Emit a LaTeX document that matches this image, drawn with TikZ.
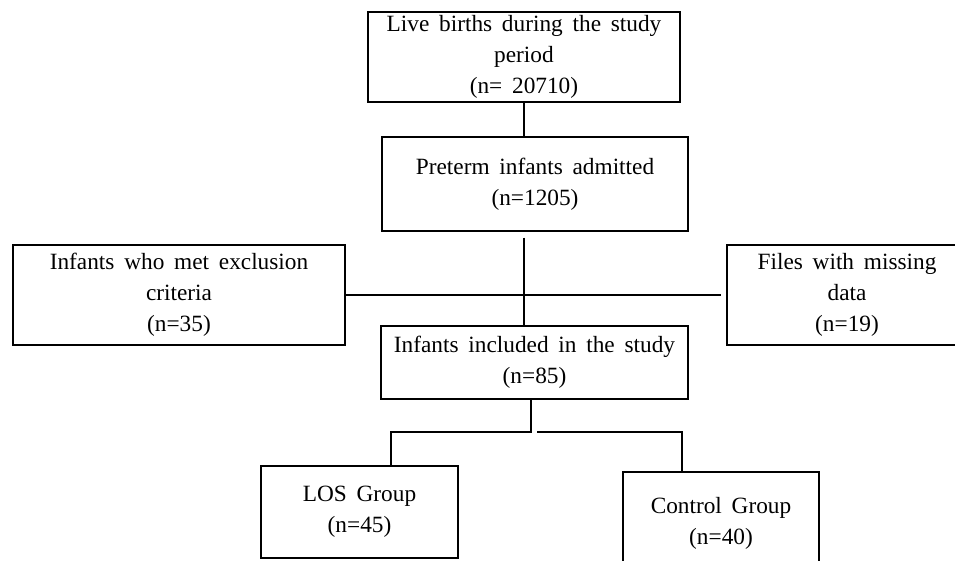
\documentclass[tikz,border=0pt]{standalone}
\usepackage{fontspec}
\setmainfont{Liberation Serif}
\usetikzlibrary{positioning,calc}
\newcommand{\boxfont}{\fontsize{23.3}{31}\selectfont\spaceskip=0.42em\relax}

\begin{document}
\begin{tikzpicture}[x=1pt, y=-1pt,
  box/.style={draw, line width=1.2pt, inner sep=0pt, align=center, font=\boxfont},
  link/.style={line width=1.2pt},
]
\fill[white] (0,0) rectangle (955,560);
\useasboundingbox (0,0) rectangle (955,560);

% main column
\node[box, minimum width=312pt, minimum height=90pt] (live) at (524,57)
  {Live births during the study\\period\\(n= 20710)};
\node[box, minimum width=306pt, minimum height=94pt] (preterm) at (535,184)
  {Preterm infants admitted\\(n=1205)};
\node[box, minimum width=307pt, minimum height=73pt] (included) at (534.5,362.5)
  {Infants included in the study\\(n=85)};

% excluded
\node[box, minimum width=332pt, minimum height=100pt] (excl) at (179,295)
  {Infants who met exclusion\\criteria\\(n=35)};
\node[box, minimum width=240pt, minimum height=100pt] (missing) at (847,295)
  {Files with missing\\data\\(n=19)};

% groups
\node[box, minimum width=197pt, minimum height=92pt] (los) at (359.5,512)
  {LOS Group\\(n=45)};
\node[box, minimum width=196pt, minimum height=103pt] (control) at (721,523.5)
  {Control Group\\(n=40)};

% connectors
\coordinate (split) at (531,432);
\draw[link] (live.south) -- (live.south |- preterm.north);
\draw[link] ([yshift=-6pt]preterm.south -| live.south) -- (live.south |- included.north);
\draw[link] (excl.east) -- ([xshift=-5pt]missing.west);
\draw[link] (included.south -| split) -- (split) -| ([xshift=31.5pt]los.north);
\draw[link] ([xshift=6pt]split) -| ([xshift=-39pt]control.north);
\end{tikzpicture}
\end{document}
